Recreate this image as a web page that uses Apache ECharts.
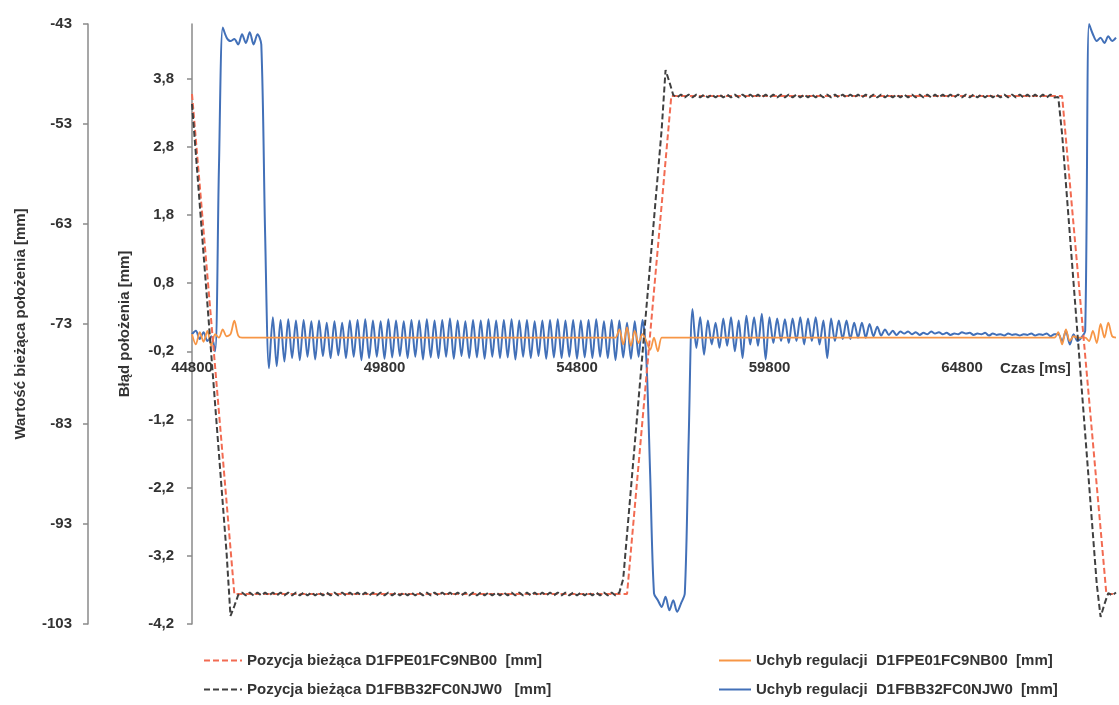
<!DOCTYPE html>
<html><head><meta charset="utf-8">
<script src="https://cdn.jsdelivr.net/npm/echarts@6/dist/echarts.min.js"></script>
<style>html,body{margin:0;padding:0;background:#fff}#c{width:1119px;height:705px}</style>
</head><body><div id="c"></div>
<script>
// ---- data ----
const T0 = 44800;          // first sample time [ms]
const DT = 100;            // sample step [ms]
const xLabelStep = 5000;

const names = [
  'Pozycja bieżąca D1FPE01FC9NB00  [mm]',
  'Pozycja bieżąca D1FBB32FC0NJW0   [mm]',
  'Uchyb regulacji  D1FPE01FC9NB00  [mm]',
  'Uchyb regulacji  D1FBB32FC0NJW0  [mm]'
];

// position D1FPE01FC9NB00 (left axis) - breakpoints
const redT = [44800, 45900, 56100, 57250, 67400, 68550, 68800];
const redV = [-50.0, -100.0, -100.0, -50.2, -50.2, -100.0, -100.0];

// position D1FBB32FC0NJW0 (left axis), one value per 100 ms
const blackV = [
  -51.0, -56.0, -61.0, -66.0, -71.0, -76.0, -81.0, -86.0, -91.0, -96.0, -102.2, -101.2, -100.1,
  -99.85, -100.15, -99.85, -100.15, -99.85, -100.15, -99.85, -100.15, -99.85, -100.15,
  -99.85, -100.15, -99.85, -100.15, -99.85, -100.15, -99.85, -100.15, -99.85, -100.15,
  -99.85, -100.15, -99.85, -100.15, -99.85, -100.15, -99.85, -100.15, -99.85, -100.15,
  -99.85, -100.15, -99.85, -100.15, -99.85, -100.15, -99.85, -100.15, -99.85, -100.15,
  -99.85, -100.15, -99.85, -100.15, -99.85, -100.15, -99.85, -100.15, -99.85, -100.15,
  -99.85, -100.15, -99.85, -100.15, -99.85, -100.15, -99.85, -100.15, -99.85, -100.15,
  -99.85, -100.15, -99.85, -100.15, -99.85, -100.15, -99.85, -100.15, -99.85, -100.15,
  -99.85, -100.15, -99.85, -100.15, -99.85, -100.15, -99.85, -100.15, -99.85, -100.15,
  -99.85, -100.15, -99.85, -100.15, -99.85, -100.15, -99.85, -100.15, -99.85, -100.15,
  -99.85, -100.15, -99.85, -100.15, -99.85, -100.15, -99.85, -100.15, -99.85,
  -98.5, -94.0, -89.5, -85.0, -80.5, -76.0, -71.5, -67.0, -62.5, -58.0, -53.5, -47.6, -48.8, -50.1,
  -50.35, -50.05, -50.35, -50.05, -50.35, -50.05, -50.35, -50.05, -50.35, -50.05,
  -50.35, -50.05, -50.35, -50.05, -50.35, -50.05, -50.35, -50.05, -50.35, -50.05,
  -50.35, -50.05, -50.35, -50.05, -50.35, -50.05, -50.35, -50.05, -50.35, -50.05,
  -50.35, -50.05, -50.35, -50.05, -50.35, -50.05, -50.35, -50.05, -50.35, -50.05,
  -50.35, -50.05, -50.35, -50.05, -50.35, -50.05, -50.35, -50.05, -50.35, -50.05,
  -50.35, -50.05, -50.35, -50.05, -50.35, -50.05, -50.35, -50.05, -50.35, -50.05,
  -50.35, -50.05, -50.35, -50.05, -50.35, -50.05, -50.35, -50.05, -50.35, -50.05,
  -50.35, -50.05, -50.35, -50.05, -50.35, -50.05, -50.35, -50.05, -50.35, -50.05,
  -50.35, -50.05, -50.35, -50.05, -50.35, -50.05, -50.35, -50.05, -50.35, -50.05,
  -50.35, -50.05, -50.35, -50.05, -50.35, -50.05, -50.35, -50.05, -50.35,
  -50.3, -54.0, -59.0, -64.0, -69.0, -74.0, -79.0, -84.0, -89.0, -94.0, -99.0, -102.3, -101.0, -99.9, -100.15, -99.85
];

// error D1FPE01FC9NB00 (inner axis) - breakpoints
const orangeT = [44800,44900,45000,45100,45200,45300,45400,45500,45600,45700,45800,45900,46000,46100,
  55700,55800,55900,56000,56100,56200,56300,56400,56500,56600,56700,56800,56900,57000,57100,
  67200,67300,67400,67500,67600,67700,67800,68000,68100,68200,68300,68400,68500,68600,68700,68800];
const orangeV = [0.05,-0.1,0.08,-0.06,0.1,-0.12,0.05,0.0,0.12,0.02,0.05,0.25,0.03,0.0,
  0.0,0.0,0.12,-0.1,0.15,-0.12,0.1,-0.08,0.05,-0.05,-0.18,0.0,-0.2,0.0,0.0,
  0.0,0.08,-0.1,0.12,-0.05,0.02,0.0,0.0,-0.05,0.1,-0.08,0.2,0.0,0.22,0.02,0.0];

// error D1FBB32FC0NJW0 (inner axis), one value per 100 ms
const blueV = [
  0.05, 0.1, -0.02, 0.08, -0.05, 0.02, -0.2, 2.5, 4.55, 4.4,
  4.35, 4.38, 4.3, 4.45, 4.32, 4.48, 4.3, 4.45, 4.3, 1.5,
  -0.45, 0.30, -0.42, 0.26, -0.35, 0.27, -0.30, 0.25, -0.33, 0.26, -0.28, 0.24, -0.32, 0.25, -0.27, 0.22, -0.30, 0.24, -0.26, 0.22,
  -0.30, 0.25, -0.28, 0.26, -0.33, 0.27, -0.30, 0.25, -0.28, 0.24, -0.31, 0.27, -0.29, 0.25, -0.27, 0.24, -0.30, 0.26, -0.28, 0.25,
  -0.32, 0.27, -0.29, 0.25, -0.30, 0.26, -0.28, 0.28, -0.31, 0.25, -0.27, 0.24, -0.30, 0.26, -0.29, 0.25, -0.31, 0.27, -0.28, 0.25,
  -0.30, 0.26, -0.29, 0.27, -0.32, 0.25, -0.28, 0.26, -0.30, 0.24, -0.27, 0.25, -0.31, 0.26, -0.29, 0.27, -0.30, 0.25, -0.28, 0.26,
  -0.31, 0.25, -0.29, 0.26, -0.30, 0.27, -0.28, 0.24, -0.30, 0.26, -0.33, 0.25, -0.29, 0.22, -0.31, 0.24, -0.28, 0.26, -0.30,
  -2.0, -3.75, -3.85, -3.95, -3.8, -4.0, -3.85, -4.02, -3.9, -3.75, -1.5, 0.42,
  -0.15, 0.3, -0.25, 0.25, -0.1, 0.22, -0.15, 0.28, -0.12, 0.3,
  -0.2, 0.25, -0.3, 0.32, -0.1, 0.3, -0.12, 0.35, -0.32, 0.3,
  -0.08, 0.28, -0.05, 0.27, -0.08, 0.28, -0.05, 0.3, -0.1, 0.28,
  -0.05, 0.3, -0.1, 0.25, -0.3, 0.28, -0.05, 0.25, -0.02, 0.25,
  -0.02, 0.22, 0.0, 0.22, 0.0, 0.2, 0.02, 0.16, 0.03, 0.12,
  0.04, 0.1, 0.04, 0.09,
  0.06, 0.09, 0.05, 0.08, 0.04, 0.07, 0.05, 0.09, 0.06, 0.08,
  0.05, 0.07, 0.04, 0.06, 0.05, 0.08, 0.06, 0.07, 0.04, 0.06,
  0.05, 0.07, 0.03, 0.06, 0.04, 0.05, 0.03, 0.06, 0.04, 0.05,
  0.03, 0.05, 0.04, 0.06, 0.03, 0.05, 0.04, 0.06, 0.02, 0.05,
  0.05, -0.05, 0.1, -0.1, 0.05, -0.05, 0.0, 0.1, 4.6, 4.45, 4.35, 4.4, 4.32, 4.42, 4.35, 4.4
];

// ---- chart ----
const FONT = 'Liberation Sans';
const pairsUniform = arr => arr.map((v, i) => [T0 + i * DT, v]);
const pairs = (ts, vs) => ts.map((t, i) => [t, vs[i]]);

const chart = echarts.init(document.getElementById('c'), null, {renderer: 'canvas'});
const txt = {fontFamily: FONT, fontWeight: 'bold', fontSize: 15, color: '#333'};
const axisLine = {show: true, lineStyle: {color: '#8a8a8a', width: 1.5}};
const legendItem = (name, left, top, w) => ({
  left: left, top: top, padding: 0, itemWidth: w, itemHeight: 14,
  itemStyle: {opacity: 0}, textStyle: txt, selectedMode: false, data: [name]
});

chart.setOption({
  animation: false,
  backgroundColor: '#fff',
  grid: {left: 192, right: 3, top: 24, bottom: 81},
  xAxis: {
    type: 'value', min: 44800, max: 68800, interval: xLabelStep,
    position: 'bottom', offset: -272,
    axisLine: {show: false}, axisTick: {show: false}, splitLine: {show: false},
    axisLabel: Object.assign({}, txt, {margin: 8, showMaxLabel: false, formatter: v => String(v)})
  },
  yAxis: [
    {
      type: 'value', min: -103, max: -43, interval: 10, position: 'left', offset: 104,
      name: 'Wartość bieżąca położenia [mm]', nameLocation: 'middle', nameGap: 60, nameRotate: 90,
      nameTextStyle: Object.assign({}, txt, {fontSize: 15}),
      axisLine: axisLine, axisTick: {show: true, length: 5, lineStyle: {color: '#8a8a8a', width: 1.5}},
      splitLine: {show: false},
      axisLabel: Object.assign({}, txt, {margin: 16})
    },
    {
      type: 'value', min: -4.2, max: 4.6, interval: 1, position: 'left', offset: 0,
      name: 'Błąd położenia [mm]', nameLocation: 'middle', nameGap: 60, nameRotate: 90,
      nameTextStyle: Object.assign({}, txt, {fontSize: 15}),
      axisLine: axisLine, axisTick: {show: true, length: 5, lineStyle: {color: '#8a8a8a', width: 1.5}},
      splitLine: {show: false},
      axisLabel: Object.assign({}, txt, {margin: 18, showMaxLabel: false,
        formatter: v => v.toFixed(1).replace('.', ',')})
    }
  ],
  legend: [
    legendItem(names[0], 203, 653, 38),
    legendItem(names[1], 203, 682, 38),
    legendItem(names[2], 718, 653, 32),
    legendItem(names[3], 718, 682, 32)
  ],
  graphic: [{type: 'text', left: 1000, top: 361,
    style: {text: 'Czas [ms]', font: 'bold 15px "' + FONT + '"', fill: '#333'}}],
  series: [
    {name: names[3], type: 'line', yAxisIndex: 1, symbol: 'none', smooth: 0.3,
     data: pairsUniform(blueV), lineStyle: {color: '#4270b8', width: 2}, itemStyle: {color: '#4270b8'}, z: 2},
    {name: names[2], type: 'line', yAxisIndex: 1, symbol: 'none', smooth: 0.3,
     data: pairs(orangeT, orangeV), lineStyle: {color: '#f79646', width: 1.8}, itemStyle: {color: '#f79646'}, z: 3},
    {name: names[0], type: 'line', yAxisIndex: 0, symbol: 'none',
     data: pairs(redT, redV), lineStyle: {color: '#f26b52', width: 2, type: [6, 3]}, itemStyle: {color: '#f26b52'}, z: 4},
    {name: names[1], type: 'line', yAxisIndex: 0, symbol: 'none',
     data: pairsUniform(blackV), lineStyle: {color: '#404040', width: 2, type: [6, 3]}, itemStyle: {color: '#404040'}, z: 5}
  ]
});
</script>
</body></html>
